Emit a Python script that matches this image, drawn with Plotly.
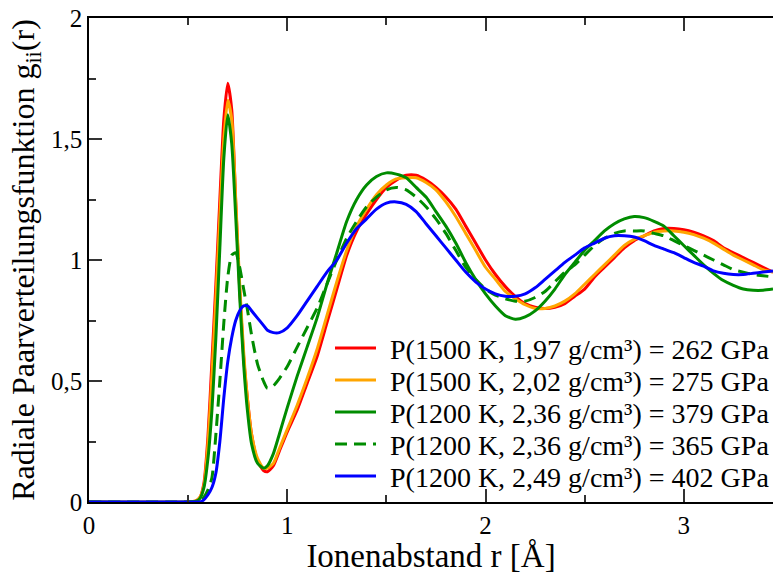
import plotly.graph_objects as go

r = [0.00, 0.50, 0.54, 0.56, 0.58, 0.60, 0.62, 0.64, 0.66, 0.68, 0.70, 0.72, 0.74, 0.76, 0.78, 0.80,
     0.82, 0.85, 0.88, 0.90, 0.93, 0.96, 1.00, 1.05, 1.10, 1.15, 1.20, 1.25, 1.30, 1.35, 1.40, 1.45,
     1.50, 1.55, 1.60, 1.65, 1.70, 1.75, 1.80, 1.85, 1.90, 1.95, 2.00, 2.05, 2.10, 2.15, 2.20, 2.25,
     2.30, 2.35, 2.40, 2.45, 2.50, 2.55, 2.60, 2.65, 2.70, 2.75, 2.80, 2.85, 2.90, 2.95, 3.00, 3.05,
     3.10, 3.15, 3.20, 3.25, 3.30, 3.35, 3.40, 3.45]

g_262 = [0, 0, 0.005, 0.02, 0.08, 0.27, 0.58, 0.90, 1.25, 1.58, 1.73, 1.62, 1.24, 0.88, 0.60, 0.42,
         0.28, 0.17, 0.13, 0.125, 0.15, 0.21, 0.29, 0.38, 0.49, 0.60, 0.74, 0.88, 1.02, 1.12, 1.19, 1.25,
         1.30, 1.33, 1.35, 1.35, 1.33, 1.30, 1.26, 1.21, 1.14, 1.07, 1.00, 0.94, 0.89, 0.85, 0.82, 0.805,
         0.80, 0.805, 0.82, 0.85, 0.88, 0.93, 0.97, 1.01, 1.05, 1.08, 1.10, 1.12, 1.13, 1.13, 1.125, 1.115,
         1.10, 1.08, 1.05, 1.03, 1.01, 0.99, 0.97, 0.95]

g_275 = [0, 0, 0.005, 0.02, 0.07, 0.24, 0.52, 0.84, 1.18, 1.50, 1.66, 1.58, 1.25, 0.90, 0.62, 0.42,
         0.28, 0.18, 0.14, 0.14, 0.16, 0.22, 0.30, 0.40, 0.51, 0.63, 0.77, 0.91, 1.04, 1.14, 1.21, 1.27,
         1.31, 1.335, 1.34, 1.34, 1.32, 1.29, 1.24, 1.18, 1.11, 1.04, 0.97, 0.92, 0.87, 0.84, 0.815, 0.80,
         0.80, 0.81, 0.83, 0.86, 0.90, 0.94, 0.98, 1.02, 1.06, 1.085, 1.10, 1.115, 1.12, 1.12, 1.115, 1.105,
         1.09, 1.07, 1.045, 1.02, 1.00, 0.98, 0.96, 0.95]

g_379 = [0, 0, 0.003, 0.015, 0.06, 0.18, 0.38, 0.68, 1.05, 1.42, 1.60, 1.48, 1.18, 0.85, 0.57, 0.37,
         0.24, 0.16, 0.14, 0.15, 0.20, 0.28, 0.39, 0.52, 0.64, 0.76, 0.90, 1.03, 1.16, 1.25, 1.31, 1.345,
         1.36, 1.355, 1.34, 1.30, 1.26, 1.20, 1.14, 1.07, 0.99, 0.92, 0.86, 0.81, 0.77, 0.755, 0.765, 0.79,
         0.83, 0.88, 0.94, 0.99, 1.04, 1.08, 1.12, 1.15, 1.17, 1.18, 1.175, 1.16, 1.14, 1.10, 1.06, 1.02,
         0.98, 0.945, 0.915, 0.895, 0.88, 0.875, 0.875, 0.88]

g_365 = [0, 0, 0.0, 0.005, 0.02, 0.05, 0.10, 0.28, 0.50, 0.74, 0.93, 1.02, 1.03, 0.97, 0.88, 0.79,
         0.69, 0.57, 0.50, 0.47, 0.48, 0.51, 0.56, 0.64, 0.72, 0.80, 0.90, 1.00, 1.09, 1.16, 1.22, 1.26,
         1.29, 1.30, 1.29, 1.26, 1.22, 1.17, 1.11, 1.04, 0.97, 0.92, 0.88, 0.855, 0.84, 0.83, 0.83, 0.845,
         0.87, 0.91, 0.95, 0.98, 1.02, 1.06, 1.09, 1.11, 1.12, 1.12, 1.12, 1.11, 1.10, 1.08, 1.06, 1.04,
         1.02, 1.00, 0.98, 0.96, 0.95, 0.94, 0.935, 0.93]

g_402 = [0, 0, 0, 0.0, 0.01, 0.03, 0.06, 0.12, 0.25, 0.43, 0.58, 0.68, 0.75, 0.79, 0.81, 0.81,
         0.79, 0.76, 0.73, 0.71, 0.70, 0.70, 0.72, 0.77, 0.83, 0.89, 0.95, 1.00, 1.07, 1.13, 1.17, 1.21,
         1.235, 1.24, 1.23, 1.20, 1.15, 1.10, 1.05, 1.00, 0.95, 0.91, 0.88, 0.86, 0.85, 0.85, 0.86, 0.885,
         0.92, 0.955, 0.99, 1.02, 1.05, 1.07, 1.09, 1.10, 1.10, 1.095, 1.08, 1.06, 1.045, 1.03, 1.01, 0.99,
         0.975, 0.955, 0.945, 0.94, 0.94, 0.945, 0.95, 0.955]

names = ["P(1500 K, 1,97 g/cm³) = 262 GPa",
         "P(1500 K, 2,02 g/cm³) = 275 GPa",
         "P(1200 K, 2,36 g/cm³) = 379 GPa",
         "P(1200 K, 2,36 g/cm³) = 365 GPa",
         "P(1200 K, 2,49 g/cm³) = 402 GPa"]
series = [g_262, g_275, g_379, g_365, g_402]
colors = ["#ff0000", "#ffa500", "#008c00", "#008c00", "#0000ff"]
dashes = ["solid", "solid", "solid", "12px,7px", "solid"]

x_tickvals = [0, 1, 2, 3]
x_ticktext = ["0", "1", "2", "3"]
y_tickvals = [0, 0.5, 1, 1.5, 2]
y_ticktext = ["0", "0,5", "1", "1,5", "2"]

FONT = "Liberation Serif"
W, H = 773, 574
ML, MR, MT, MB = 89, 0, 18, 72
PW, PH = W - ML - MR, H - MT - MB


def px_x(p):
    return (p - ML) / PW


def px_y(p):
    return (H - MB - p) / PH


fig = go.Figure()
for name, y, c, d in zip(names, series, colors, dashes):
    fig.add_trace(go.Scatter(x=r, y=y, name=name, mode="lines", showlegend=False,
                             line=dict(color=c, width=3, dash=d, shape="spline", smoothing=0.6)))

# legend (drawn inside the plot like the reference)
row_y = [348, 380, 412, 444, 476]
for name, c, d, yy in zip(names, colors, dashes, row_y):
    fig.add_shape(type="line", xref="paper", yref="paper",
                  x0=px_x(335), x1=px_x(376), y0=px_y(yy), y1=px_y(yy),
                  line=dict(color=c, width=3, dash=d))
    fig.add_annotation(xref="paper", yref="paper", x=px_x(388), y=px_y(yy + 1),
                       xanchor="left", yanchor="middle", showarrow=False, text=name,
                       font=dict(family=FONT, size=28, color="black"))

axis_common = dict(showgrid=False, zeroline=False, showline=True, linecolor="black", linewidth=1.5,
                   ticks="inside", ticklen=13, tickwidth=1.5, tickcolor="#333",
                   tickfont=dict(family=FONT, size=25, color="black"))

fig.update_xaxes(range=[0, 3.45], tickvals=x_tickvals, ticktext=x_ticktext, mirror="ticks",
                 minor=dict(dtick=0.5, tick0=0, ticklen=7, tickwidth=1.5, ticks="inside", tickcolor="#333"),
                 title=dict(text="Ionenabstand r [Å]", font=dict(family=FONT, size=33, color="black"), standoff=7),
                 **axis_common)
fig.update_yaxes(range=[0, 2], tickvals=y_tickvals, ticktext=y_ticktext, mirror=False,
                 minor=dict(dtick=0.25, tick0=0, ticklen=7, tickwidth=1.5, ticks="inside", tickcolor="#333"),
                 title=dict(text="Radiale Paarverteilungsfunktion g<sub>ii</sub>(r)",
                            font=dict(family=FONT, size=32, color="black"), standoff=7),
                 **axis_common)

fig.update_layout(
    width=W, height=H,
    margin=dict(l=ML, r=MR, t=MT, b=MB),
    paper_bgcolor="white", plot_bgcolor="white",
    font=dict(family=FONT, color="black"),
    showlegend=False,
)

fig.write_html("out.html")
